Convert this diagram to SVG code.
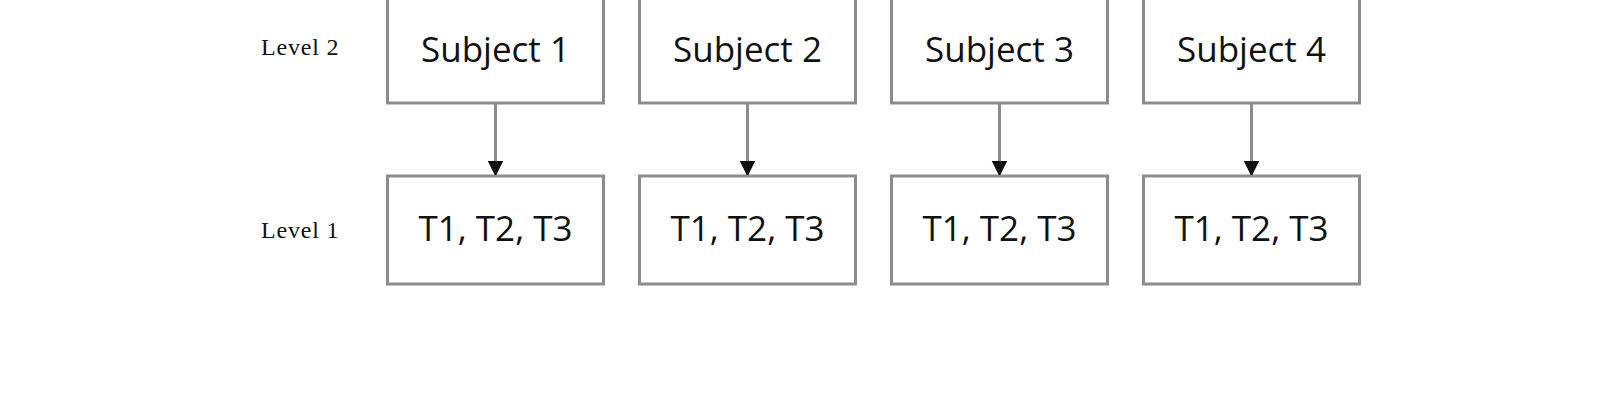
<svg xmlns="http://www.w3.org/2000/svg" width="1600" height="400" viewBox="0 0 1600 400">
<defs>
<style>
.box{fill:#fff;stroke:#8c8c8c;stroke-width:3}
.t{font-family:"Open Sans","Noto Sans",sans-serif;font-size:35px;fill:#111;text-anchor:middle}
.lv{font-family:"Liberation Serif",serif;font-size:24px;letter-spacing:0.8px;fill:#111}
.c{stroke:#8c8c8c;stroke-width:3;fill:none}
</style>
<marker id="ah" markerWidth="14" markerHeight="22" refX="14" refY="11" orient="auto" markerUnits="userSpaceOnUse">
<path d="M0,3 L16,11 L0,19 Z" fill="#111"/>
</marker>
</defs>
<rect width="1600" height="400" fill="#fff"/>
<text class="lv" x="261" y="55">Level 2</text>
<text class="lv" x="261" y="238">Level 1</text>
<g id="s1"><rect class="box" x="387.5" y="-5" width="216" height="108"/><text class="t" x="495.5" y="62">Subject 1</text></g>
<g id="s2"><rect class="box" x="639.5" y="-5" width="216" height="108"/><text class="t" x="747.5" y="62">Subject 2</text></g>
<g id="s3"><rect class="box" x="891.5" y="-5" width="216" height="108"/><text class="t" x="999.5" y="62">Subject 3</text></g>
<g id="s4"><rect class="box" x="1143.5" y="-5" width="216" height="108"/><text class="t" x="1251.5" y="62">Subject 4</text></g>
<g id="t1"><rect class="box" x="387.5" y="176" width="216" height="108"/><text class="t" x="495.5" y="241">T1, T2, T3</text></g>
<g id="t2"><rect class="box" x="639.5" y="176" width="216" height="108"/><text class="t" x="747.5" y="241">T1, T2, T3</text></g>
<g id="t3"><rect class="box" x="891.5" y="176" width="216" height="108"/><text class="t" x="999.5" y="241">T1, T2, T3</text></g>
<g id="t4"><rect class="box" x="1143.5" y="176" width="216" height="108"/><text class="t" x="1251.5" y="241">T1, T2, T3</text></g>
<g id="connectors">
<line class="c" x1="495.5" y1="104" x2="495.5" y2="174.5" marker-end="url(#ah)"/>
<line class="c" x1="747.5" y1="104" x2="747.5" y2="174.5" marker-end="url(#ah)"/>
<line class="c" x1="999.5" y1="104" x2="999.5" y2="174.5" marker-end="url(#ah)"/>
<line class="c" x1="1251.5" y1="104" x2="1251.5" y2="174.5" marker-end="url(#ah)"/>
</g>
</svg>
